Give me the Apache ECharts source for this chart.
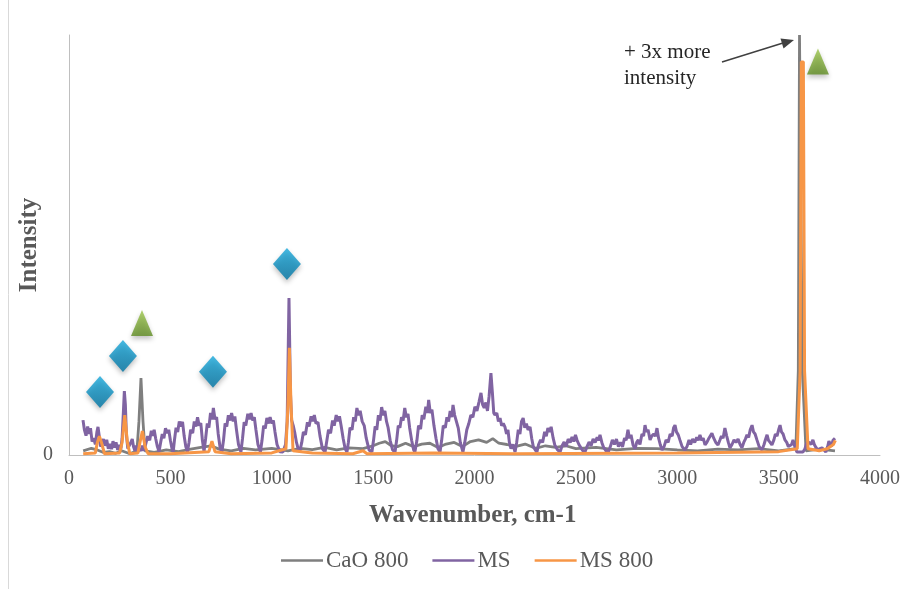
<!DOCTYPE html>
<html>
<head>
<meta charset="utf-8">
<script src="https://cdn.jsdelivr.net/npm/echarts@6/dist/echarts.min.js"></script>
<style>html,body{margin:0;padding:0;background:#fff}#c{width:907px;height:589px}</style>
</head>
<body>
<div id="c"></div>
<script>
// ---- data (wavenumber cm-1, intensity in arbitrary units 0-100) ----
var xTicks = [0, 500, 1000, 1500, 2000, 2500, 3000, 3500, 4000];
var seriesNames = ['CaO 800', 'MS', 'MS 800'];

var caoData = [
  [70,1.0],[110,1.6],[140,1.2],[170,0.6],[200,0.8],[230,0.4],[260,1.0],[300,0.3],[335,1.0],[345,8],[355,18.3],[365,8],[375,1.0],
  [420,0.6],[480,1.2],[540,0.8],[600,1.4],[650,1.8],[700,2.2],[740,1.4],[800,1.0],[860,1.6],[920,1.2],[1000,1.6],
  [1080,1.0],[1140,1.6],[1200,1.3],[1260,1.8],[1320,1.2],[1380,1.7],[1450,1.5],[1500,2.2],[1530,2.8],[1560,3.2],
  [1590,2.2],[1620,2.0],[1660,2.8],[1700,2.0],[1740,2.6],[1780,2.8],[1820,1.8],[1860,2.6],[1900,3.0],[1940,2.0],
  [1980,3.2],[2020,3.6],[2060,3.0],[2090,3.9],[2120,2.8],[2160,2.5],[2200,2.0],[2250,2.6],[2300,1.6],[2350,2.2],
  [2400,1.8],[2450,2.2],[2500,1.5],[2600,1.8],[2700,1.2],[2800,1.6],[2900,1.5],[3000,1.2],[3100,1.0],[3200,1.4],
  [3300,1.2],[3400,1.5],[3500,1.0],[3585,1.5],[3597,20],[3603,100],[3611,100],[3617,20],[3635,1.0],[3700,1.4],[3778,1.0]
];

var msData = [
  [69,8.3],[76,6.0],[84,4.6],[92,6.8],[100,5.0],[106,6.4],[114,3.2],[122,4.0],[130,2.5],[138,5.6],[143,6.7],
  [150,4.2],[156,2.0],[163,1.6],[170,3.8],[178,2.2],[186,3.6],[194,1.5],[202,2.6],[210,1.4],[217,3.3],[224,1.8],
  [232,3.0],[240,1.2],[248,2.4],[256,1.5],[262,4],[268,10],[273,15.2],[278,12],[283,5],[290,1.5],[298,1.2],
  [305,3.0],[312,3.8],[318,2.0],[325,1.0],[332,2.2],[340,0.8],[348,1.5],[355,1.0],[362,2.2],[370,1.0],
  [378,2.5],[388,4.5],[398,3.5],[406,5.8],[414,4.6],[420,6.0],[428,3.8],[436,2.0],[444,0.8],
  [452,3.0],[460,5.0],[468,4.0],[476,6.4],[484,5.2],[492,6.0],[500,3.5],[508,1.5],[514,0.8],
  [520,3.5],[528,6.5],[536,5.5],[544,8.0],[552,6.8],[560,7.9],[568,4.5],[576,2.0],[584,0.8],
  [592,3.0],[600,6.0],[610,5.2],[618,8.0],[626,6.8],[634,9.0],[642,7.0],[650,7.6],[658,3.5],[666,0.8],
  [674,4.0],[682,7.5],[690,6.5],[698,10.0],[706,8.5],[712,11.2],[720,8.5],[728,9.0],[736,5.0],[746,1.5],[754,0.7],
  [762,3.5],[770,7.5],[778,6.8],[786,9.5],[794,8.2],[802,10.0],[810,8.0],[818,9.2],[826,6.0],[836,2.5],[848,0.7],
  [856,4.0],[864,7.8],[872,7.0],[882,9.8],[890,8.5],[898,10.0],[906,8.2],[914,9.0],[922,6.0],[932,2.5],[944,0.7],
  [952,3.5],[960,7.0],[968,6.3],[976,8.8],[984,7.5],[992,9.0],[1000,7.5],[1008,8.2],[1016,5.5],[1026,2.5],[1040,0.8],
  [1055,0.7],[1068,2.5],[1076,8],[1085,37.4],[1092,15],[1098,8.3],[1106,7.0],[1114,5.2],[1122,3.0],[1130,1.5],[1139,1.0],
  [1148,3.0],[1156,5.5],[1166,4.8],[1176,7.8],[1184,6.8],[1194,9.2],[1202,8.0],[1210,9.5],[1218,7.5],[1228,7.8],[1238,4.5],[1250,1.5],[1263,0.7],
  [1272,3.5],[1280,6.0],[1290,5.2],[1300,8.2],[1308,7.0],[1318,9.5],[1326,8.0],[1334,9.2],[1342,7.0],[1352,4.0],[1362,1.5],[1371,0.7],
  [1378,3.0],[1386,6.5],[1396,6.0],[1404,9.0],[1412,8.0],[1420,11.2],[1428,9.5],[1436,10.5],[1446,8.0],[1456,7.0],[1466,4.0],[1480,1.2],[1494,0.7],
  [1502,3.5],[1510,6.8],[1518,6.0],[1526,9.5],[1534,8.2],[1542,11.4],[1550,9.5],[1558,10.5],[1566,8.0],[1574,6.5],[1584,3.5],[1596,1.2],[1608,0.7],
  [1616,3.5],[1624,7.0],[1632,6.5],[1640,9.0],[1648,8.2],[1656,11.2],[1664,9.0],[1672,9.8],[1680,6.5],[1690,3.5],[1700,1.2],[1706,0.7],
  [1716,3.5],[1724,7.0],[1734,6.2],[1742,9.5],[1750,8.5],[1760,11.5],[1768,10.0],[1774,13.1],[1782,10.0],[1790,10.8],[1800,7.0],[1810,4.0],[1820,1.5],[1830,0.7],
  [1838,3.5],[1846,7.0],[1856,6.5],[1864,9.0],[1872,8.0],[1880,10.5],[1888,9.0],[1894,11.9],[1902,9.5],[1910,9.8],[1920,6.4],[1930,3.0],[1943,0.7],
  [1952,3.0],[1962,6.0],[1972,7.5],[1982,9.5],[1992,9.0],[2002,11.5],[2012,10.5],[2022,12.6],[2032,14.8],[2040,12.0],[2048,11.2],
  [2056,12.5],[2064,10.5],[2072,14],[2081,19.5],[2088,15],[2095,10.0],[2101,9.5],[2110,10.0],[2118,8.0],[2126,8.8],[2134,7.0],
  [2142,7.5],[2150,6.7],[2158,5.0],[2165,6.0],[2172,3.0],[2180,1.5],[2190,2.5],[2200,0.7],
  [2208,3.0],[2216,6.0],[2224,5.0],[2232,8.0],[2240,8.8],[2248,6.5],[2256,7.5],[2264,6.0],[2274,6.7],[2282,4.0],[2290,2.0],[2300,1.2],[2308,0.7],
  [2316,2.5],[2326,3.6],[2336,3.0],[2346,5.5],[2354,4.5],[2362,6.4],[2370,5.5],[2378,6.7],[2388,4.0],[2396,2.4],[2410,1.2],[2422,0.7],
  [2432,2.2],[2442,3.1],[2452,2.0],[2462,3.8],[2472,3.0],[2481,4.3],[2490,3.2],[2498,4.8],[2506,3.5],[2515,2.5],[2525,1.7],[2535,1.0],[2545,0.7],
  [2555,2.0],[2565,3.1],[2575,2.2],[2585,3.8],[2595,3.0],[2605,4.2],[2612,3.5],[2619,4.8],[2628,3.0],[2636,1.9],[2648,1.0],[2660,0.7],
  [2670,2.0],[2680,3.6],[2690,2.5],[2700,3.8],[2710,2.0],[2720,3.0],[2730,1.9],[2740,4.0],[2748,3.5],[2757,6.0],[2764,4.0],[2772,4.8],
  [2782,2.4],[2792,1.5],[2800,3.0],[2808,3.6],[2816,2.5],[2826,5.0],[2834,4.5],[2841,7.1],[2848,5.5],[2856,6.0],[2866,3.6],[2874,4.5],
  [2884,5.0],[2892,4.5],[2900,6.4],[2908,4.0],[2916,2.5],[2925,1.2],
  [2935,2.0],[2945,3.6],[2955,3.0],[2965,5.0],[2975,4.5],[2982,6.5],[2989,7.1],[2996,5.5],[3005,4.8],[3013,3.6],[3024,2.0],[3038,1.2],
  [3048,2.0],[3058,3.6],[3066,2.5],[3076,3.8],[3086,3.0],[3096,4.2],[3104,3.5],[3112,4.8],[3120,3.5],[3128,4.0],[3137,2.4],[3146,3.0],
  [3154,3.8],[3162,3.5],[3171,5.2],[3180,4.0],[3190,3.0],[3201,2.4],[3210,3.5],[3218,4.5],[3226,4.0],[3235,6.4],[3244,4.5],[3252,3.0],
  [3260,1.7],[3270,2.5],[3280,3.6],[3290,3.0],[3300,3.8],[3310,2.5],[3319,1.7],[3328,3.0],[3336,3.8],[3344,4.8],[3352,4.2],[3360,6.0],
  [3369,7.1],[3376,5.5],[3384,5.0],[3393,3.6],[3404,2.0],[3418,1.2],[3428,2.5],[3436,3.8],[3443,4.8],[3450,3.5],[3458,3.0],[3467,2.4],
  [3476,3.5],[3484,5.0],[3492,4.5],[3500,6.0],[3507,7.1],[3514,5.5],[3522,5.0],[3531,3.6],[3540,3.0],[3548,2.0],[3556,1.9],[3564,2.5],
  [3571,3.6],[3580,2.0],[3590,0.7],[3620,0.7],[3630,1.5],[3638,2.8],[3645,2.4],[3652,3.0],[3660,2.5],[3669,3.6],[3676,2.5],[3684,1.8],
  [3694,1.2],[3704,1.5],[3714,1.7],[3724,1.2],[3733,0.7],[3742,2.0],[3748,3.3],[3753,3.1],[3760,2.0],[3768,3.5],[3778,4.0]
];

var ms800Data = [
  [70,0.3],[130,0.5],[140,3],[150,4.5],[160,3],[175,0.3],[250,0.5],[262,3],[275,9.5],[288,3],[300,0.3],
  [340,0.5],[350,3],[362,5.7],[375,2],[390,0.3],[500,0.3],[690,0.8],[705,3.3],[720,0.8],[800,0.3],
  [1000,0.5],[1070,1.5],[1080,12],[1087,25.5],[1095,12],[1105,1],[1200,0.5],[1400,0.3],[1450,1],
  [1470,0.3],[1800,0.5],[2200,0.3],[3000,0.5],[3500,0.8],[3592,1.5],[3606,20],[3612,93.6],[3622,93.6],
  [3628,20],[3645,1.5],[3700,1],[3740,1.5],[3770,2.5],[3780,3.5]
];

// band-assignment markers (wavenumber, intensity)
var diamondMarks = [[153,15.0],[266,23.6],[710,19.8],[1075,45.5]];
var triangleMarks = [[360,31.4],[3694,93.7]];

var noteLines = ['+ 3x more', 'intensity'];

var FONT = 'Liberation Serif';
var chart = echarts.init(document.getElementById('c'), null, {renderer: 'canvas'});

var colors = ['#7f7f7f', '#8064a2', '#f79646'];

var option = {
  animation: false,
  backgroundColor: '#ffffff',
  grid: {left: 69, right: 27, top: 35, bottom: 134, containLabel: false},
  xAxis: {
    type: 'value', min: 0, max: 4000, interval: 500,
    axisLine: {show: true, lineStyle: {color: '#bfbfbf', width: 1}},
    axisTick: {show: false},
    splitLine: {show: false},
    axisLabel: {color: '#595959', fontFamily: FONT, fontSize: 20, margin: 14,
      formatter: function (v) { return xTicks.indexOf(v) >= 0 ? String(v) : ''; }}
  },
  yAxis: {
    type: 'value', min: 0, max: 100, interval: 100,
    axisLine: {show: true, lineStyle: {color: '#bfbfbf', width: 1}},
    axisTick: {show: false},
    splitLine: {show: false},
    axisLabel: {color: '#595959', fontFamily: FONT, fontSize: 20, margin: 16,
      formatter: function (v) { return v === 0 ? '0' : ''; }}
  },
  legend: {
    data: seriesNames,
    bottom: 12, left: 276,
    icon: 'rect', itemWidth: 42, itemHeight: 2.5, itemGap: 24,
    textStyle: {color: '#595959', fontFamily: FONT, fontSize: 23, padding: [0, 0, 0, -2]}
  },
  series: [
    {name: seriesNames[0], type: 'line', data: caoData, showSymbol: false, symbol: 'none',
      lineStyle: {color: colors[0], width: 2.8}, itemStyle: {color: colors[0]}, z: 2},
    {name: seriesNames[1], type: 'line', data: msData, showSymbol: false, symbol: 'none',
      lineStyle: {color: colors[1], width: 3}, itemStyle: {color: colors[1]}, z: 3},
    {name: seriesNames[2], type: 'line', data: ms800Data, showSymbol: false, symbol: 'none',
      lineStyle: {color: colors[2], width: 3}, itemStyle: {color: colors[2]}, z: 4},
    {type: 'scatter', data: diamondMarks, symbol: 'diamond', symbolSize: [28, 32], z: 5,
      itemStyle: {
        color: new echarts.graphic.LinearGradient(0, 0, 0, 1, [
          {offset: 0, color: '#17a9dc'}, {offset: 1, color: '#0074a3'}]),
        shadowColor: 'rgba(0,0,0,0.3)', shadowBlur: 5, shadowOffsetY: 3
      }, emphasis: {disabled: true}},
    {type: 'scatter', data: triangleMarks, symbol: 'triangle', symbolSize: [22, 26], z: 5,
      itemStyle: {
        color: new echarts.graphic.LinearGradient(0, 0, 0, 1, [
          {offset: 0, color: '#9cc64a'}, {offset: 1, color: '#5f8c22'}]),
        shadowColor: 'rgba(0,0,0,0.3)', shadowBlur: 5, shadowOffsetY: 3
      }, emphasis: {disabled: true}}
  ],
  graphic: [
    {type: 'line', shape: {x1: 8.5, y1: 0, x2: 8.5, y2: 589}, style: {stroke: '#d9d9d9', lineWidth: 1}, silent: true},
    {type: 'text', left: 369, top: 503, style: {text: 'Wavenumber, cm-1', font: 'bold 25px "Liberation Serif"', fill: '#595959'}},
    {type: 'text', x: 30, y: 245, rotation: Math.PI / 2,
      style: {text: 'Intensity', font: 'bold 25px "Liberation Serif"', fill: '#595959', textAlign: 'center', textVerticalAlign: 'middle'}},
    {type: 'text', x: 624, y: 52, style: {text: noteLines[0], font: '21px "Liberation Serif"', fill: '#262626', textVerticalAlign: 'middle'}},
    {type: 'text', x: 624, y: 78, style: {text: noteLines[1], font: '21px "Liberation Serif"', fill: '#262626', textVerticalAlign: 'middle'}},
    {type: 'line', shape: {x1: 722, y1: 62, x2: 783, y2: 43}, style: {stroke: '#404040', lineWidth: 1.5}},
    {type: 'polygon', shape: {points: [[794, 40], [783.5, 48.5], [780.5, 38.5]]}, style: {fill: '#404040'}}
  ]
};
chart.setOption(option);
</script>
</body>
</html>
